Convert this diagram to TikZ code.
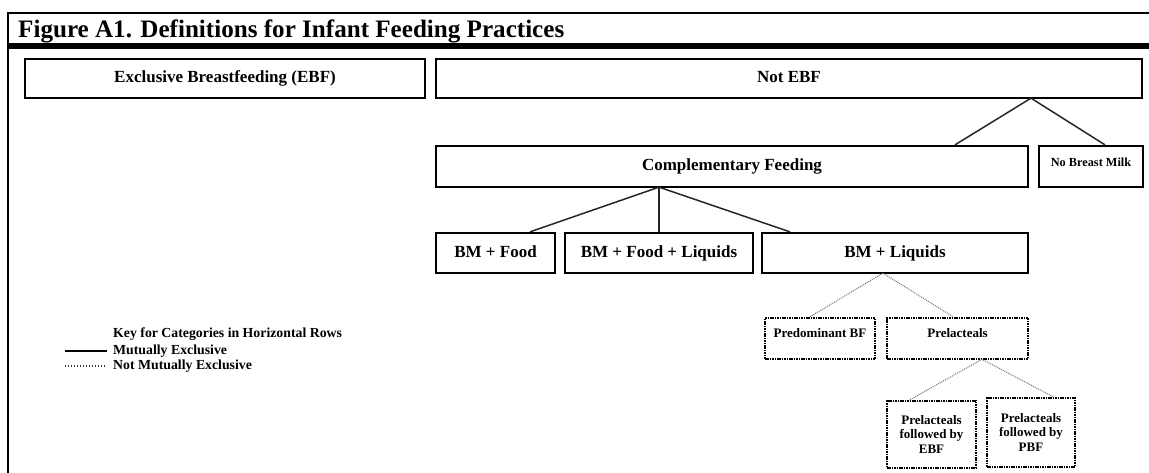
\documentclass[tikz,border=0pt]{standalone}
\usepackage{fontspec}
\setmainfont{Liberation Serif}
\begin{document}
\begin{tikzpicture}[x=1pt,y=-1pt,
  solidbox/.style={draw=black,line width=2.3pt,rectangle,inner sep=0pt,align=center,text height=11.5pt,text depth=3.5pt,font=\bfseries\fontsize{17}{18}\selectfont},
  dotbox/.style={draw=black,line width=2.6pt,dash pattern=on 1.6pt off 0.8pt,rectangle,inner sep=0pt,align=center,font=\bfseries\fontsize{13}{14.8}\selectfont},
  solidlink/.style={draw=black!85,line width=1.5pt},
  dotlink/.style={draw=black!55,line width=1pt,dash pattern=on 1pt off 1pt},
  keytext/.style={anchor=west,inner sep=0pt,font=\bfseries\fontsize{13.8}{15}\selectfont}
]
\useasboundingbox (0,0) rectangle (1149,472);
% frame
\draw[line width=2.4pt] (8,473) -- (8,12.8) -- (1150,12.8);
\draw[line width=5.6pt] (6.8,45.8) -- (1150,45.8);
\node[anchor=base west,inner sep=0pt,font=\bfseries\fontsize{25.1}{27}\selectfont] (title) at (18,37) {Figure A1. Definitions for Infant Feeding Practices};
% boxes
\node[solidbox,minimum width=400pt,minimum height=39pt] (ebf) at (225,78.5) {Exclusive Breastfeeding (EBF)};
\node[solidbox,minimum width=706pt,minimum height=39pt] (notebf) at (789,78.5) {Not EBF};
\node[solidbox,minimum width=592pt,minimum height=41pt] (comp) at (732,166.5) {Complementary Feeding};
\node[solidbox,minimum width=104pt,minimum height=41pt,font=\bfseries\fontsize{12.3}{14}\selectfont,text height=8.5pt,text depth=9pt] (nobm) at (1091,166.5) {No Breast Milk};
\node[solidbox,minimum width=119pt,minimum height=40pt] (bmf) at (495.5,253) {BM + Food};
\node[solidbox,minimum width=188pt,minimum height=40pt] (bmfl) at (659,253) {BM + Food + Liquids};
\node[solidbox,minimum width=266pt,minimum height=40pt] (bml) at (895,253) {BM + Liquids};
\node[dotbox,minimum width=110pt,minimum height=41pt,text height=9pt,text depth=11pt] (pbf) at (820,338.5) {Predominant BF};
\node[dotbox,minimum width=141pt,minimum height=41pt,text height=9pt,text depth=11pt] (prel) at (957.5,338.5) {Prelacteals};
\node[dotbox,minimum width=89pt,minimum height=67pt] (pebf) at (931.5,434.5) {Prelacteals\\followed by\\EBF};
\node[dotbox,minimum width=88pt,minimum height=69pt] (ppbf) at (1031,432.5) {Prelacteals\\followed by\\PBF};
% connectors
\draw[solidlink] ([xshift=223pt]comp.north) -- ([xshift=242pt,yshift=1pt]notebf.south) -- ([xshift=14pt]nobm.north);
\draw[solidlink] ([xshift=34.5pt]bmf.north) -- ([xshift=-73pt,yshift=1pt]comp.south) -- ([xshift=-105pt]bml.north);
\draw[solidlink] ([xshift=-73pt,yshift=1pt]comp.south) -- (bmfl.north);
\draw[dotlink] ([xshift=-10pt]pbf.north) -- ([xshift=-12pt,yshift=1pt]bml.south) -- ([xshift=-4.5pt]prel.north);
\draw[dotlink] ([xshift=-21.5pt]pebf.north) -- ([xshift=24.5pt,yshift=1pt]prel.south) -- ([xshift=22pt]ppbf.north);
% key
\node[keytext] (keyt) at (113,334) {Key for Categories in Horizontal Rows};
\node[keytext] (key1) at (113,351) {Mutually Exclusive};
\node[keytext] (key2) at (113,366) {Not Mutually Exclusive};
\coordinate (k1a) at (65,351);
\coordinate (k2a) at (65,366);
\draw[line width=1.4pt] (k1a) -- ([xshift=-6pt]key1.west);
\draw[line width=1.4pt,dash pattern=on 1.3pt off 1.7pt,black!80] (k2a) -- ([xshift=-8pt]key2.west);
\end{tikzpicture}
\end{document}
